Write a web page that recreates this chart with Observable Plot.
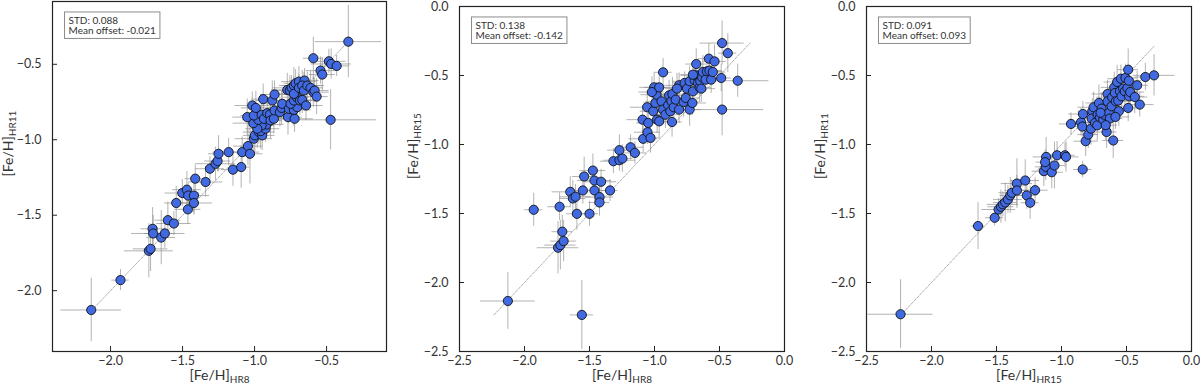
<!DOCTYPE html>
<html>
<head>
<meta charset="utf-8">
<script src="https://cdn.jsdelivr.net/npm/d3@7"></script>
<script src="https://cdn.jsdelivr.net/npm/@observablehq/plot@0.6"></script>
<style>
  html, body { margin: 0; padding: 0; background: #fff; }
  #chart { position: relative; width: 1200px; height: 387px; overflow: hidden; }
  #chart svg { position: absolute; top: 0; }
</style>
</head>
<body>
<div id="chart"></div>
<script>
// ---------- Panel 1: [Fe/H]HR8 (x) vs [Fe/H]HR11 (y) ----------
const p1x = [-2.134,-1.931,-1.734,-1.722,-1.708,-1.704,-1.648,-1.623,-1.602,-1.560,-1.544,-1.502,-1.470,-1.461,-1.463,-1.421,-1.421,-1.412,-1.340,-1.310,-1.271,-1.257,-1.250,-1.180,-1.150,-1.093,-1.086,-1.046,-1.032,-1.005,-0.998,-0.970,-0.947,-0.958,-0.924,-0.917,-0.951,-0.981,-1.009,-1.051,-0.974,-1.005,-1.016,-0.991,-0.940,-0.951,-0.935,-0.912,-0.893,-0.889,-0.866,-0.861,-0.877,-0.861,-0.824,-0.812,-0.808,-0.768,-0.722,-0.762,-0.727,-0.704,-0.750,-0.727,-0.708,-0.685,-0.669,-0.773,-0.755,-0.743,-0.727,-0.715,-0.692,-0.653,-0.727,-0.692,-0.669,-0.657,-0.634,-0.611,-0.592,-0.583,-0.569,-0.643,-0.542,-0.530,-0.592,-0.484,-0.468,-0.430,-0.349,-0.472];
const p1y = [-2.128,-1.930,-1.736,-1.723,-1.590,-1.621,-1.648,-1.621,-1.533,-1.555,-1.419,-1.353,-1.331,-1.370,-1.461,-1.370,-1.419,-1.258,-1.280,-1.192,-1.159,-1.141,-1.093,-1.082,-1.198,-1.181,-1.082,-1.042,-1.093,-0.993,-0.971,-0.949,-0.971,-0.943,-0.927,-0.899,-0.905,-0.927,-0.890,-0.850,-0.868,-0.839,-0.773,-0.789,-0.731,-0.835,-0.861,-0.824,-0.833,-0.872,-0.861,-0.806,-0.740,-0.700,-0.817,-0.789,-0.762,-0.850,-0.861,-0.795,-0.802,-0.784,-0.762,-0.740,-0.718,-0.740,-0.736,-0.670,-0.674,-0.656,-0.641,-0.626,-0.615,-0.608,-0.696,-0.656,-0.641,-0.674,-0.641,-0.656,-0.685,-0.674,-0.714,-0.773,-0.542,-0.568,-0.460,-0.480,-0.498,-0.511,-0.350,-0.868];
const p1xe = [0.21,0.06,0.17,0.12,0.08,0.15,0.10,0.14,0.09,0.12,0.08,0.12,0.10,0.06,0.09,0.11,0.13,0.07,0.12,0.10,0.14,0.09,0.07,0.11,0.08,0.06,0.12,0.10,0.09,0.13,0.08,0.11,0.09,0.07,0.10,0.12,0.09,0.08,0.14,0.10,0.11,0.09,0.12,0.10,0.08,0.11,0.09,0.13,0.10,0.08,0.12,0.09,0.11,0.10,0.12,0.09,0.11,0.10,0.13,0.09,0.12,0.10,0.08,0.11,0.09,0.12,0.10,0.11,0.09,0.13,0.10,0.08,0.12,0.10,0.11,0.09,0.14,0.10,0.12,0.09,0.11,0.10,0.08,0.12,0.10,0.09,0.07,0.12,0.14,0.09,0.23,0.32];
const p1ye = [0.21,0.07,0.18,0.15,0.14,0.12,0.18,0.10,0.12,0.08,0.11,0.09,0.12,0.08,0.10,0.13,0.07,0.09,0.10,0.08,0.11,0.07,0.12,0.09,0.11,0.14,0.10,0.13,0.20,0.09,0.11,0.08,0.10,0.12,0.09,0.10,0.08,0.13,0.07,0.12,0.09,0.10,0.09,0.11,0.10,0.08,0.10,0.11,0.09,0.12,0.10,0.08,0.13,0.09,0.10,0.11,0.08,0.12,0.09,0.10,0.11,0.09,0.10,0.08,0.12,0.10,0.09,0.11,0.10,0.08,0.12,0.09,0.10,0.08,0.11,0.09,0.10,0.12,0.09,0.11,0.10,0.08,0.12,0.10,0.09,0.11,0.14,0.08,0.10,0.07,0.24,0.20];

// ---------- Panel 2: [Fe/H]HR8 (x) vs [Fe/H]HR15 (y) ----------
const p2x = [-2.128,-1.559,-1.929,-1.742,-1.724,-1.699,-1.709,-1.730,-1.648,-1.628,-1.607,-1.597,-1.551,-1.541,-1.500,-1.474,-1.462,-1.462,-1.423,-1.423,-1.411,-1.342,-1.316,-1.270,-1.270,-1.247,-1.184,-1.151,-1.087,-1.054,-1.031,-1.092,-1.048,-1.056,-1.010,-1.003,-0.993,-0.985,-1.020,-0.980,-0.964,-0.964,-0.934,-0.946,-0.934,-0.916,-0.895,-0.888,-0.878,-0.870,-0.862,-0.852,-0.837,-0.865,-0.811,-0.811,-0.776,-0.768,-0.760,-0.750,-0.730,-0.730,-0.709,-0.704,-0.691,-0.679,-0.684,-0.666,-0.653,-0.648,-0.633,-0.628,-0.607,-0.597,-0.582,-0.577,-0.564,-0.538,-0.551,-0.487,-0.480,-0.436,-0.480,-0.360,-0.704,-0.640,-0.827];
const p2y = [-2.134,-2.235,-1.473,-1.748,-1.729,-1.700,-1.632,-1.451,-1.343,-1.391,-1.379,-1.502,-1.333,-1.232,-1.502,-1.189,-1.261,-1.333,-1.381,-1.420,-1.270,-1.333,-1.121,-1.041,-1.114,-1.102,-1.020,-1.061,-0.959,-0.911,-0.952,-0.820,-0.844,-0.730,-0.759,-0.586,-0.699,-0.639,-0.620,-0.820,-0.586,-0.832,-0.477,-0.687,-0.747,-0.784,-0.716,-0.644,-0.759,-0.687,-0.634,-0.730,-0.675,-0.837,-0.571,-0.747,-0.692,-0.554,-0.663,-0.595,-0.542,-0.747,-0.699,-0.615,-0.535,-0.417,-0.499,-0.554,-0.586,-0.542,-0.514,-0.475,-0.530,-0.470,-0.378,-0.465,-0.530,-0.398,-0.475,-0.518,-0.265,-0.338,-0.747,-0.538,-0.494,-0.595,-0.595];
const p2xe = [0.21,0.09,0.07,0.16,0.12,0.10,0.08,0.09,0.14,0.10,0.12,0.08,0.11,0.09,0.07,0.10,0.13,0.09,0.11,0.08,0.12,0.06,0.10,0.09,0.12,0.08,0.10,0.09,0.11,0.10,0.08,0.12,0.09,0.13,0.10,0.11,0.09,0.12,0.10,0.08,0.11,0.10,0.07,0.12,0.09,0.11,0.10,0.13,0.09,0.11,0.10,0.12,0.09,0.08,0.11,0.10,0.12,0.09,0.11,0.10,0.13,0.09,0.11,0.10,0.12,0.08,0.11,0.10,0.09,0.12,0.10,0.11,0.09,0.12,0.08,0.10,0.11,0.09,0.10,0.08,0.17,0.07,0.32,0.24,0.10,0.11,0.09];
const p2ye = [0.205,0.25,0.12,0.19,0.18,0.15,0.12,0.10,0.11,0.13,0.09,0.12,0.10,0.14,0.09,0.12,0.10,0.11,0.08,0.10,0.09,0.08,0.09,0.11,0.08,0.10,0.09,0.08,0.10,0.09,0.11,0.10,0.08,0.11,0.09,0.10,0.12,0.09,0.11,0.10,0.08,0.12,0.10,0.09,0.11,0.10,0.09,0.11,0.08,0.10,0.12,0.09,0.10,0.11,0.09,0.10,0.11,0.08,0.10,0.09,0.11,0.12,0.09,0.10,0.08,0.11,0.10,0.09,0.11,0.10,0.08,0.12,0.09,0.10,0.11,0.09,0.10,0.12,0.08,0.10,0.16,0.14,0.19,0.12,0.09,0.10,0.11];

// ---------- Panel 3: [Fe/H]HR15 (x) vs [Fe/H]HR11 (y) ----------
const p3x = [-2.238,-1.642,-1.514,-1.484,-1.466,-1.451,-1.433,-1.412,-1.394,-1.382,-1.343,-1.343,-1.279,-1.267,-1.241,-1.203,-1.136,-1.121,-1.118,-1.126,-1.075,-1.054,-1.034,-0.973,-0.965,-0.927,-0.850,-0.840,-0.835,-0.837,-0.814,-0.794,-0.773,-0.763,-0.768,-0.753,-0.743,-0.725,-0.722,-0.712,-0.704,-0.692,-0.679,-0.671,-0.653,-0.646,-0.646,-0.635,-0.628,-0.615,-0.610,-0.602,-0.594,-0.589,-0.582,-0.572,-0.564,-0.559,-0.551,-0.543,-0.538,-0.526,-0.513,-0.508,-0.493,-0.487,-0.482,-0.480,-0.487,-0.472,-0.436,-0.418,-0.398,-0.355,-0.288,-0.700,-0.660,-0.585];
const p3y = [-2.230,-1.591,-1.531,-1.471,-1.451,-1.434,-1.420,-1.398,-1.369,-1.350,-1.283,-1.333,-1.261,-1.369,-1.422,-1.331,-1.193,-1.162,-1.090,-1.128,-1.201,-1.152,-1.078,-1.078,-1.090,-0.851,-0.839,-0.870,-0.779,-1.181,-0.976,-0.928,-0.885,-0.759,-0.812,-0.730,-0.844,-0.861,-0.784,-0.699,-0.803,-0.740,-0.820,-0.784,-0.909,-0.634,-0.687,-0.771,-0.812,-0.723,-0.658,-0.971,-0.586,-0.627,-0.687,-0.547,-0.682,-0.759,-0.615,-0.523,-0.651,-0.595,-0.615,-0.518,-0.591,-0.458,-0.538,-0.651,-0.735,-0.620,-0.656,-0.571,-0.711,-0.511,-0.499,-0.770,-0.860,-0.800];
const p3xe = [0.25,0.05,0.07,0.13,0.10,0.12,0.09,0.11,0.08,0.10,0.12,0.09,0.11,0.08,0.07,0.10,0.09,0.08,0.10,0.07,0.09,0.08,0.11,0.08,0.10,0.09,0.10,0.09,0.11,0.07,0.09,0.08,0.10,0.11,0.09,0.12,0.10,0.09,0.11,0.10,0.12,0.09,0.11,0.10,0.08,0.12,0.09,0.11,0.10,0.09,0.12,0.08,0.10,0.11,0.09,0.10,0.12,0.09,0.11,0.10,0.09,0.12,0.10,0.09,0.11,0.08,0.10,0.12,0.09,0.11,0.10,0.09,0.11,0.08,0.16,0.10,0.09,0.11];
const p3ye = [0.25,0.17,0.06,0.08,0.12,0.09,0.14,0.10,0.13,0.09,0.18,0.11,0.15,0.10,0.12,0.09,0.11,0.10,0.14,0.09,0.12,0.17,0.10,0.09,0.11,0.08,0.10,0.12,0.09,0.06,0.11,0.10,0.12,0.09,0.10,0.11,0.09,0.12,0.10,0.13,0.09,0.11,0.10,0.09,0.12,0.10,0.11,0.09,0.12,0.10,0.09,0.13,0.11,0.10,0.09,0.12,0.10,0.11,0.09,0.10,0.12,0.09,0.11,0.10,0.09,0.15,0.10,0.11,0.10,0.09,0.12,0.10,0.09,0.10,0.15,0.10,0.11,0.09];

// ---------- Tick values, labels, stats ----------
const ticksP1 = [-2.0, -1.5, -1.0, -0.5];
const ticksP23 = [-2.5, -2.0, -1.5, -1.0, -0.5, 0.0];
const domainP1 = [-2.403, -0.084];
const domainP23 = [-2.5, 0.0];
const xLabels = ["[Fe/H]|HR8", "[Fe/H]|HR8", "[Fe/H]|HR15"];
const yLabels = ["[Fe/H]|HR11", "[Fe/H]|HR15", "[Fe/H]|HR11"];
const stdValues = ["0.088", "0.138", "0.091"];
const offsetValues = ["-0.021", "-0.142", "0.093"];

const panels = [
  {xs: p1x, ys: p1y, xe: p1xe, ye: p1ye, ticks: ticksP1, domain: domainP1, left: 0,
   m: {l: 52, r: 14, t: 1, b: 36}, ylabDx: -44},
  {xs: p2x, ys: p2y, xe: p2xe, ye: p2ye, ticks: ticksP23, domain: domainP23, left: 400,
   m: {l: 59, r: 16, t: 6, b: 36}, ylabDx: -46},
  {xs: p3x, ys: p3y, xe: p3xe, ye: p3ye, ticks: ticksP23, domain: domainP23, left: 800,
   m: {l: 66, r: 9, t: 6, b: 36}, ylabDx: -46}
];

const W = 400, H = 387;
const fmt = d3.format(".1f");
const chart = document.getElementById("chart");

panels.forEach((p, i) => {
  const data = p.xs.map((x, k) => ({x, y: p.ys[k], xe: p.xe[k], ye: p.ye[k]}));
  const ext = d3.extent([...p.xs, ...p.ys]);
  const plotW = W - p.m.l - p.m.r;
  const plotH = H - p.m.t - p.m.b;
  const svg = Plot.plot({
    width: W, height: H,
    marginLeft: p.m.l, marginRight: p.m.r, marginTop: p.m.t, marginBottom: p.m.b,
    style: {fontFamily: "Lato, 'Liberation Sans', sans-serif", fontSize: "12.5px", color: "#333", background: "white"},
    x: {domain: p.domain},
    y: {domain: p.domain},
    marks: [
      Plot.line(ext, {x: d => d, y: d => d, stroke: "#9a9a9a", strokeWidth: 0.8, strokeDasharray: "2.5,1.5"}),
      Plot.ruleY(data, {y: "y", x1: d => d.x - d.xe, x2: d => d.x + d.xe, stroke: "#8a8a8a", strokeOpacity: 0.65, strokeWidth: 1}),
      Plot.ruleX(data, {x: "x", y1: d => d.y - d.ye, y2: d => d.y + d.ye, stroke: "#8a8a8a", strokeOpacity: 0.65, strokeWidth: 1}),
      Plot.dot(data, {x: "x", y: "y", r: 4.6, fill: "#4169e1", stroke: "#111", strokeWidth: 0.9}),
      Plot.tickX(p.ticks, {x: d => d, insetTop: plotH - 5, stroke: "#222", strokeWidth: 1}),
      Plot.tickY(p.ticks, {y: d => d, insetRight: plotW - 5, stroke: "#222", strokeWidth: 1}),
      Plot.axisX({ticks: p.ticks, tickFormat: fmt, tickSize: 0, tickPadding: 5, label: null, fontSize: 12.5}),
      Plot.axisY({ticks: p.ticks, tickFormat: fmt, tickSize: 0, tickPadding: 11, label: null, fontSize: 12.5}),
      Plot.frame({stroke: "#222", strokeWidth: 1.2}),
      Plot.text([xLabels[i]], {text: d => d, frameAnchor: "bottom", dy: 28, fontSize: 14, fill: "#333"}),
      Plot.text([yLabels[i]], {text: d => d, frameAnchor: "left", rotate: -90, dx: p.ylabDx, fontSize: 14, fill: "#333"}),
      Plot.text([`STD: ${stdValues[i]}\nMean offset: ${offsetValues[i]}`], {text: d => d, frameAnchor: "top-left", dx: 16, dy: 15, textAnchor: "start", lineAnchor: "top", fontSize: 10, lineHeight: 1.05, fill: "#333"})
    ]
  });
  svg.style.left = p.left + "px";
  chart.appendChild(svg);

  // subscripts on axis labels, box behind stats text
  svg.querySelectorAll("text").forEach(t => {
    const s = t.textContent;
    if (s.includes("|")) {
      const [main, sub] = s.split("|");
      t.textContent = main;
      const ts = document.createElementNS("http://www.w3.org/2000/svg", "tspan");
      ts.setAttribute("font-size", "10");
      ts.setAttribute("dy", "3");
      ts.textContent = sub;
      t.appendChild(ts);
    } else if (s.startsWith("STD")) {
      const bb = t.getBBox();
      const r = document.createElementNS("http://www.w3.org/2000/svg", "rect");
      r.setAttribute("x", bb.x - 4);
      r.setAttribute("y", bb.y - 2);
      r.setAttribute("width", bb.width + 8);
      r.setAttribute("height", bb.height + 4);
      r.setAttribute("fill", "white");
      r.setAttribute("stroke", "#8c8c8c");
      r.setAttribute("stroke-width", "1");
      const tr = t.getAttribute("transform");
      if (tr) r.setAttribute("transform", tr);
      t.parentNode.insertBefore(r, t);
    }
  });
});
</script>
</body>
</html>
